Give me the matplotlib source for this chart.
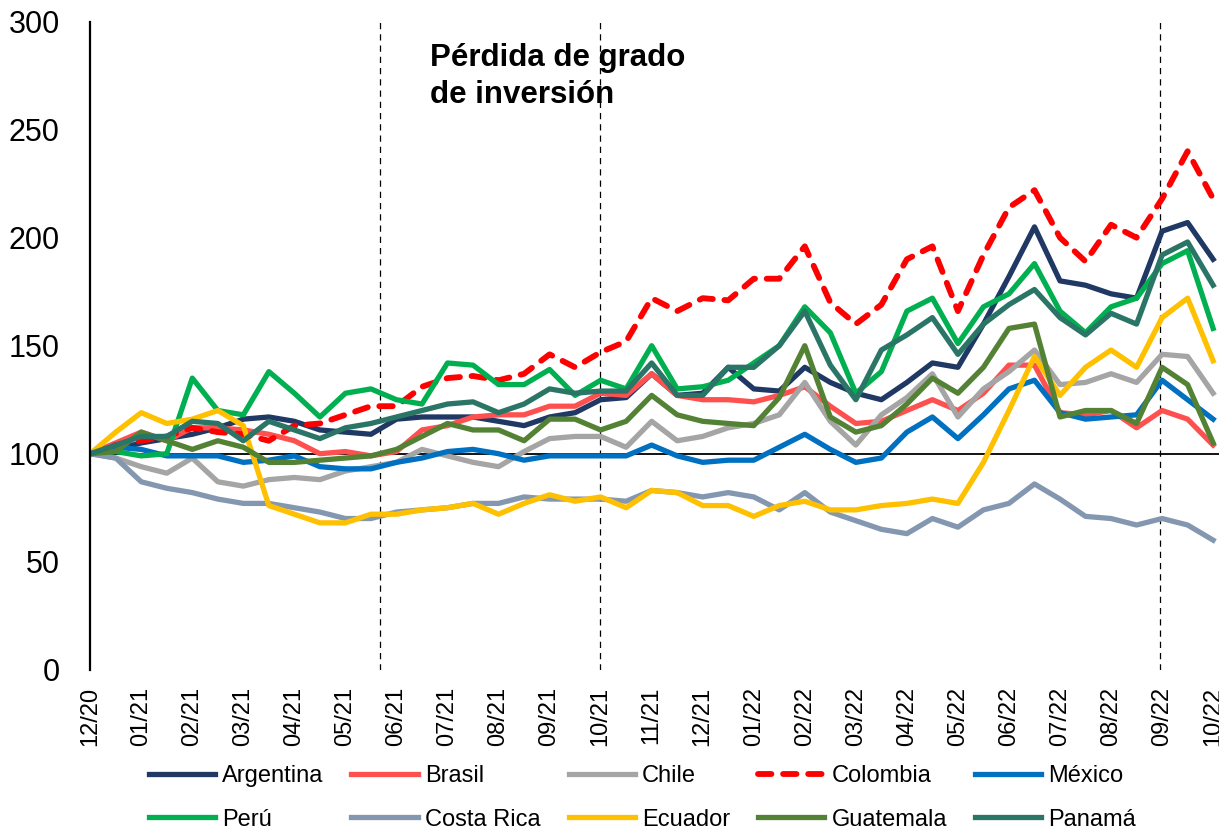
import numpy as np
import matplotlib
matplotlib.use("Agg")
import matplotlib.pyplot as plt

plt.rcParams['font.family'] = ['Liberation Sans', 'DejaVu Sans']

# Índices semi-mensuales (12/20 = 100)
argentina = [100, 102, 105, 107, 109, 112, 116, 117, 115, 111,
             110, 109, 116, 117, 117, 117, 115, 113, 117, 119,
             125, 126, 137, 127, 128, 140, 130, 129, 140, 133,
             128, 125, 133, 142, 140, 160, 182, 205, 180, 178,
             174, 172, 203, 207, 190]
brasil = [100, 105, 110, 106, 112, 112, 111, 109, 106, 100,
          101, 99, 101, 111, 113, 117, 118, 118, 122, 122,
          128, 127, 137, 127, 125, 125, 124, 127, 131, 122,
          114, 115, 120, 125, 120, 128, 141, 141, 119, 118,
          120, 112, 120, 116, 104]
chile = [100, 98, 94, 91, 98, 87, 85, 88, 89, 88,
         92, 94, 96, 102, 99, 96, 94, 101, 107, 108,
         108, 103, 115, 106, 108, 112, 114, 118, 133, 115,
         104, 118, 126, 137, 117, 130, 138, 148, 132, 133,
         137, 133, 146, 145, 128]
colombia = [100, 104, 106, 108, 112, 110, 109, 106, 113, 114,
            118, 122, 122, 131, 135, 136, 134, 137, 146, 140,
            147, 152, 172, 166, 172, 171, 181, 181, 196, 170,
            160, 169, 190, 196, 166, 192, 214, 222, 200, 189,
            206, 200, 218, 240, 218]
mexico = [100, 103, 102, 99, 99, 99, 96, 97, 99, 94,
          93, 93, 96, 98, 101, 102, 100, 97, 99, 99,
          99, 99, 104, 99, 96, 97, 97, 103, 109, 102,
          96, 98, 110, 117, 107, 118, 130, 134, 119, 116,
          117, 118, 134, 125, 116]
peru = [100, 101, 99, 100, 135, 120, 118, 138, 128, 117,
        128, 130, 125, 123, 142, 141, 132, 132, 139, 127,
        134, 130, 150, 130, 131, 134, 142, 150, 168, 156,
        128, 138, 166, 172, 151, 168, 174, 188, 166, 156,
        168, 172, 188, 194, 158]
costa_rica = [100, 98, 87, 84, 82, 79, 77, 77, 75, 73,
              70, 70, 73, 74, 75, 77, 77, 80, 79, 79,
              79, 78, 83, 82, 80, 82, 80, 74, 82, 73,
              69, 65, 63, 70, 66, 74, 77, 86, 79, 71,
              70, 67, 70, 67, 60]
ecuador = [100, 110, 119, 114, 116, 120, 113, 76, 72, 68,
           68, 72, 72, 74, 75, 77, 72, 77, 81, 78,
           80, 75, 83, 82, 76, 76, 71, 76, 78, 74,
           74, 76, 77, 79, 77, 96, 120, 145, 127, 140,
           148, 140, 163, 172, 143]
guatemala = [100, 101, 110, 106, 102, 106, 103, 96, 96, 97,
             98, 99, 102, 108, 114, 111, 111, 106, 116, 116,
             111, 115, 127, 118, 115, 114, 113, 126, 150, 117,
             110, 113, 123, 135, 128, 140, 158, 160, 117, 120,
             120, 114, 140, 132, 105]
panama = [100, 104, 108, 108, 115, 114, 106, 115, 111, 107,
          112, 114, 117, 120, 123, 124, 119, 123, 130, 128,
          129, 129, 142, 127, 127, 140, 140, 150, 166, 141,
          125, 148, 155, 163, 146, 160, 169, 176, 163, 155,
          165, 160, 192, 198, 178]

tick_labels = ['12/20', '01/21', '02/21', '03/21', '04/21', '05/21', '06/21',
               '07/21', '08/21', '09/21', '10/21', '11/21', '12/21', '01/22',
               '02/22', '03/22', '04/22', '05/22', '06/22', '07/22', '08/22',
               '09/22', '10/22']
# fechas de pérdida de grado de inversión (meses desde 12/20)
event_months = [5.68, 9.99, 20.96]

series = [
    ('Argentina', argentina, '#1F3864'),
    ('Brasil', brasil, '#FF5050'),
    ('Chile', chile, '#A5A5A5'),
    ('Colombia', colombia, '#FF0000'),
    ('México', mexico, '#0070C0'),
    ('Perú', peru, '#00B050'),
    ('Costa Rica', costa_rica, '#8497B0'),
    ('Ecuador', ecuador, '#FFC000'),
    ('Guatemala', guatemala, '#548235'),
    ('Panamá', panama, '#2A7566'),
]

months = np.arange(len(argentina)) / 2  # observaciones semi-mensuales

fig = plt.figure(figsize=(12.19, 8.32), dpi=100)
ax = fig.add_axes([0.074, 0.195, 0.926, 0.779])

handles = {}
for name, vals, color in series:
    if name == 'Colombia':
        line, = ax.plot(months, vals, color=color, lw=4.2,
                        linestyle=(0, (2.3, 2.0)), dash_capstyle='round',
                        solid_joinstyle='round', label=name)
    else:
        line, = ax.plot(months, vals, color=color, lw=3.8,
                        solid_joinstyle='round', label=name)
    handles[name] = line

ax.axhline(100, color='black', lw=1.3, zorder=1)
for m in event_months:
    ax.axvline(m, color='black', lw=0.9, linestyle=(0, (5, 4)), zorder=1)

ax.text(0.301, 0.967, 'Pérdida de grado\nde inversión', transform=ax.transAxes,
        ha='left', va='top', fontsize=22.5, fontweight='bold', linespacing=1.3)

ax.set_ylim(0, 300)
ax.set_yticks(range(0, 301, 50))
ax.set_xlim(0, 22.115)
ax.set_xticks(range(len(tick_labels)))
ax.set_xticklabels(tick_labels, rotation=90, fontsize=17)
ax.tick_params(axis='y', labelsize=22, length=0, pad=22)
ax.tick_params(axis='x', length=0, pad=12)

for s in ['top', 'right', 'bottom']:
    ax.spines[s].set_visible(False)
ax.spines['left'].set_linewidth(1.6)

order = ['Argentina', 'Perú', 'Brasil', 'Costa Rica', 'Chile', 'Ecuador',
         'Colombia', 'Guatemala', 'México', 'Panamá']
fig.legend([handles[n] for n in order], order, ncol=5, loc='center',
           bbox_to_anchor=(0.527, 0.041), frameon=False, fontsize=17,
           handlelength=2.8, handletextpad=0.3, columnspacing=1.2,
           labelspacing=0.9)

fig.savefig('out.png', dpi=100)
